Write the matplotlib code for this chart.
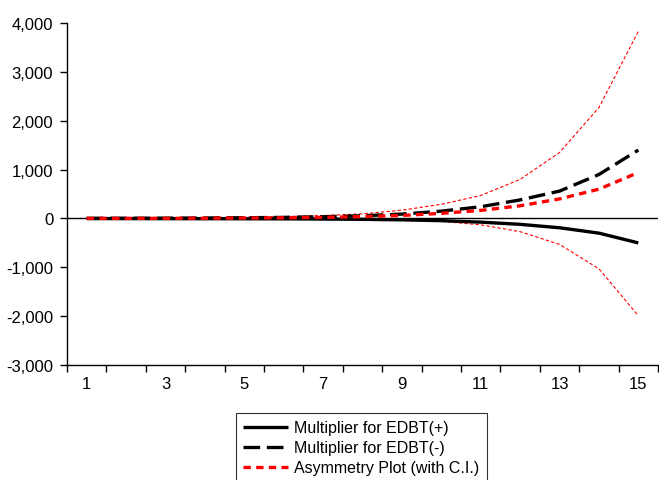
import numpy as np
import matplotlib.pyplot as plt
from matplotlib.ticker import FuncFormatter

plt.rcParams['font.family'] = ['Liberation Sans', 'DejaVu Sans']

periods = np.arange(1, 16)
mult_pos = [-2, -3, -4, -5, -6, -8, -12, -18, -28, -45, -75, -120, -190, -300, -500]
mult_neg = [3, 5, 7, 10, 15, 22, 35, 55, 90, 150, 240, 380, 560, 900, 1400]
asym = [1, 2, 3, 5, 9, 14, 23, 37, 62, 105, 165, 260, 400, 600, 940]
ci_upper = [5, 8, 12, 18, 27, 40, 60, 95, 170, 290, 470, 800, 1350, 2270, 3830]
ci_lower = [-3, -4, -6, -8, -9, -12, -15, -20, -30, -60, -130, -270, -530, -1030, -1990]

fig = plt.figure(figsize=(6.59, 4.81), dpi=100)
ax = fig.add_axes([0.1017, 0.239, 0.8968, 0.711])

ax.axhline(0, color='black', linewidth=1.0, zorder=1)

ax.plot(periods, ci_upper, color='red', linewidth=0.8, dashes=(3, 2))
ax.plot(periods, ci_lower, color='red', linewidth=0.8, dashes=(3, 2))
l1, = ax.plot(periods, mult_pos, color='black', linewidth=2.4, solid_capstyle='butt')
l2, = ax.plot(periods, mult_neg, color='black', linewidth=2.4, dashes=(5, 2))
l3, = ax.plot(periods, asym, color='red', linewidth=2.4, dashes=(2.2, 1.6))

ax.set_xlim(0.5, 15.5)
ax.set_ylim(-3000, 4000)
ax.set_yticks(np.arange(-3000, 4001, 1000))
ax.yaxis.set_major_formatter(FuncFormatter(lambda v, p: f"{int(v):,}"))

ax.set_xticks(np.arange(0.5, 15.6, 1), minor=True)
ax.set_xticks(np.arange(1, 16, 2))
ax.set_xticklabels([str(i) for i in range(1, 16, 2)])
ax.tick_params(axis='x', which='major', length=0, pad=8, labelsize=12)
ax.tick_params(axis='x', which='minor', length=5, width=1, direction='out')
ax.tick_params(axis='y', length=5, width=1, labelsize=12, pad=5)

for s in ['top', 'right']:
    ax.spines[s].set_visible(False)
ax.spines['left'].set_linewidth(1)
ax.spines['bottom'].set_linewidth(1)

leg = fig.legend([l1, l2, l3],
                 ['Multiplier for EDBT(+)', 'Multiplier for EDBT(-)',
                  'Asymmetry Plot (with C.I.)'],
                 loc='upper left', bbox_to_anchor=(236 / 659, 1 - 414 / 481),
                 fontsize=11.5, frameon=True, fancybox=False, handlelength=2.8,
                 handletextpad=0.4, labelspacing=0.32, borderpad=0.45,
                 borderaxespad=0)
leg.get_frame().set_edgecolor('black')
leg.get_frame().set_linewidth(0.8)

fig.savefig('out.png', dpi=100)
